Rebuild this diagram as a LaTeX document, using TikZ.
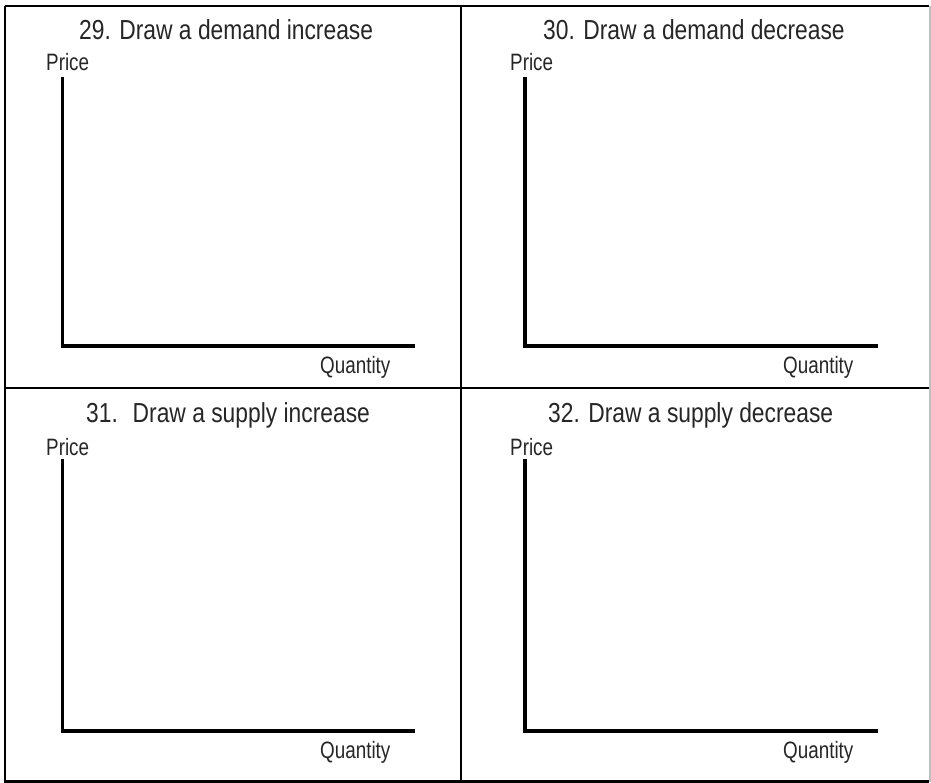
\documentclass[tikz,border=0pt]{standalone}
\usepackage{fontspec}
\setmainfont{Liberation Sans}
\newfontfamily\headfont{Liberation Sans}[FakeStretch=0.83]
\newfontfamily\axisfont{Liberation Sans}[FakeStretch=0.795]
\begin{document}
\begin{tikzpicture}[x=1pt,y=-1pt,
  frame/.style={line width=2.5pt, draw=black},
  axis/.style={line width=3.5pt, line join=miter},
  title/.style={font=\headfont\fontsize{27.5}{32}\selectfont, anchor=base west, inner sep=0pt, text=black!85},
  lab/.style={font=\axisfont\fontsize{23.7}{28}\selectfont, anchor=base west, inner sep=0pt, text=black!85}]
\useasboundingbox (0,0) rectangle (931,783);
\fill[white] (0,0) rectangle (931,783);

% outer frame and dividers
\draw[frame] (5,6) -- (5,781.5) -- (929,781.5);
\draw[frame] (5,6) -- (929,6);
\draw[line width=1.5pt, black!25] (930,6) -- (930,781.5);
\draw[frame] (461,6) -- (461,781.5);
\draw[frame] (5,388) -- (929,388);

% panel titles
\node[title] (t1) at (79,40) {29. Draw a demand increase};
\node[title] (t2) at (543,40) {30. Draw a demand decrease};
\node[title] (t3) at (86,422) {31.~ Draw a supply increase};
\node[title] (t4) at (548,422) {32. Draw a supply decrease};

% axis labels
\node[lab] (p1) at (46,71) {Price};
\node[lab] (p2) at (510,71) {Price};
\node[lab] (p3) at (46,455) {Price};
\node[lab] (p4) at (510,455) {Price};
\node[lab] (q1) at (320,373) {Quantity};
\node[lab] (q2) at (783,373) {Quantity};
\node[lab] (q3) at (320,758) {Quantity};
\node[lab] (q4) at (783,758) {Quantity};

% axes: top of price axis, origin, end of quantity axis
\coordinate (a1) at (62.5,77);  \coordinate (o1) at (62.5,346); \coordinate (b1) at (415,346);
\coordinate (a2) at (525,77);   \coordinate (o2) at (525,346);  \coordinate (b2) at (878,346);
\coordinate (a3) at (62.5,459); \coordinate (o3) at (62.5,731); \coordinate (b3) at (415,731);
\coordinate (a4) at (525,459);  \coordinate (o4) at (525,731);  \coordinate (b4) at (878,731);
\foreach \i in {1,2,3,4}
  \draw[axis] (a\i) -- (o\i) -- (b\i);
\end{tikzpicture}
\end{document}
